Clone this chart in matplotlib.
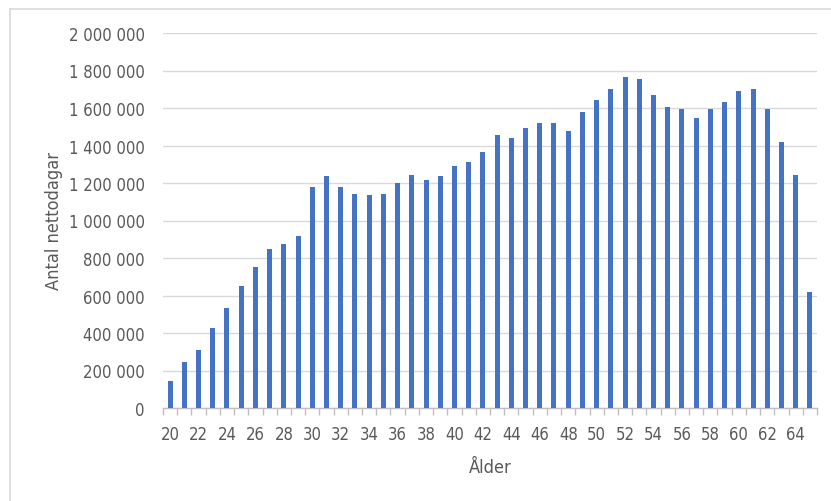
import matplotlib
matplotlib.use("Agg")
import matplotlib.pyplot as plt
from matplotlib.lines import Line2D
from matplotlib.ticker import FuncFormatter, FixedLocator
from matplotlib import font_manager as fm

names = {f.name for f in fm.fontManager.ttflist}
plt.rcParams['font.family'] = ['Liberation Sans Narrow', 'DejaVu Sans']
if "Liberation Sans Narrow" not in names:
    plt.rcParams['font.stretch'] = 'condensed'

ages = list(range(20, 66))
nettodagar = [
    142000, 244000, 309000, 428000, 532000, 652000, 754000, 846000, 873000, 919000,
    1180000, 1236000, 1180000, 1143000, 1134000, 1143000, 1198000, 1244000, 1216000, 1236000,
    1291000, 1310000, 1364000, 1458000, 1439000, 1495000, 1521000, 1521000, 1475000, 1577000,
    1642000, 1699000, 1765000, 1756000, 1670000, 1604000, 1595000, 1549000, 1595000, 1633000,
    1690000, 1699000, 1595000, 1421000, 1242000, 621000,
]
tick_labels = [str(a) for a in range(20, 65, 2)]
y_ticks = list(range(0, 2000001, 200000))
x_label = "Ålder"
y_label = "Antal nettodagar"

W, H = 831, 502
fig = plt.figure(figsize=(W / 100, H / 100), dpi=100)
ax = fig.add_axes([163 / W, 1 - 409 / H, (817 - 163) / W, (409 - 34) / H])

pos = list(range(len(ages)))
ax.bar(pos, nettodagar, width=0.35, color="#4472C4", zorder=3)

ax.set_xlim(-0.5, len(ages) - 0.5)
ax.set_ylim(0, 2000000)
ax.yaxis.set_major_locator(FixedLocator(y_ticks))
ax.yaxis.set_major_formatter(FuncFormatter(lambda v, p: f"{int(v):,}".replace(",", " ")))
ax.grid(axis="y", color="#d9d9d9", linewidth=1.0, zorder=0)

label_pos = [ages.index(int(t)) for t in tick_labels]
ax.set_xticks(label_pos)
ax.set_xticklabels(tick_labels)
ax.set_xticks([i - 0.5 for i in range(len(ages) + 1)], minor=True)
ax.tick_params(axis="x", which="major", length=0, pad=12, labelsize=12, labelcolor="#595959")
ax.tick_params(axis="x", which="minor", length=5, width=1, color="#bfbfbf")
ax.tick_params(axis="y", length=0, pad=13, labelsize=12, labelcolor="#595959")

for s in ["top", "right", "left"]:
    ax.spines[s].set_visible(False)
ax.spines["bottom"].set_color("#bfbfbf")
ax.spines["bottom"].set_linewidth(1.0)

ax.set_xlabel(x_label, fontsize=13, color="#595959", labelpad=11)
ax.set_ylabel(y_label, fontsize=13, color="#595959", labelpad=4)

fig.add_artist(Line2D([10 / W, 1.0], [1 - 10 / H, 1 - 10 / H], transform=fig.transFigure,
                      color="#d9d9d9", linewidth=1.2))
fig.add_artist(Line2D([10 / W, 10 / W], [1 - 10 / H, 0.0], transform=fig.transFigure,
                      color="#d9d9d9", linewidth=1.2))

fig.savefig("out.png", dpi=100, facecolor="white")
